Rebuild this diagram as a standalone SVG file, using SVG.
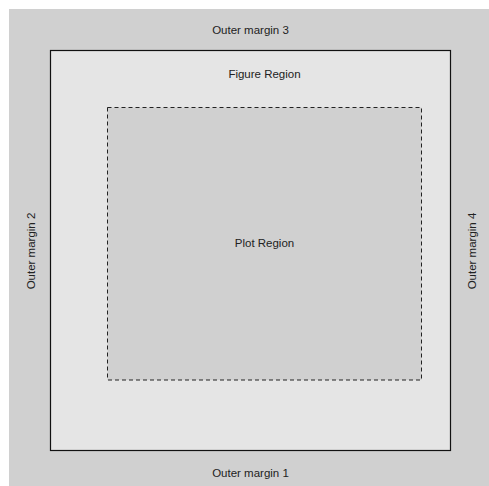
<svg xmlns="http://www.w3.org/2000/svg" width="489" height="486" viewBox="0 0 489 486">
<style>
text{font-family:"Liberation Sans",Arial,sans-serif;font-size:11.5px;fill:#222;text-anchor:middle}
</style>
<rect x="0" y="0" width="489" height="486" fill="#ffffff"/>
<g id="outer">
<rect x="9" y="9" width="480" height="477" fill="#d0d0d0"/>
<text x="250.5" y="34">Outer margin 3</text>
<text x="250.5" y="477">Outer margin 1</text>
<text transform="translate(34.5,251) rotate(-90)">Outer margin 2</text>
<text transform="translate(475.5,251) rotate(-90)">Outer margin 4</text>
</g>
<g id="figure">
<rect x="50.5" y="50.5" width="400" height="400" fill="#e5e5e5" stroke="#111" stroke-width="1.2"/>
<text x="264.5" y="78">Figure Region</text>
</g>
<g id="plot">
<rect x="107.5" y="107.5" width="314" height="272.5" fill="#d0d0d0" stroke="#222" stroke-width="1" stroke-dasharray="4,3"/>
<text x="264.5" y="247">Plot Region</text>
</g>
</svg>
